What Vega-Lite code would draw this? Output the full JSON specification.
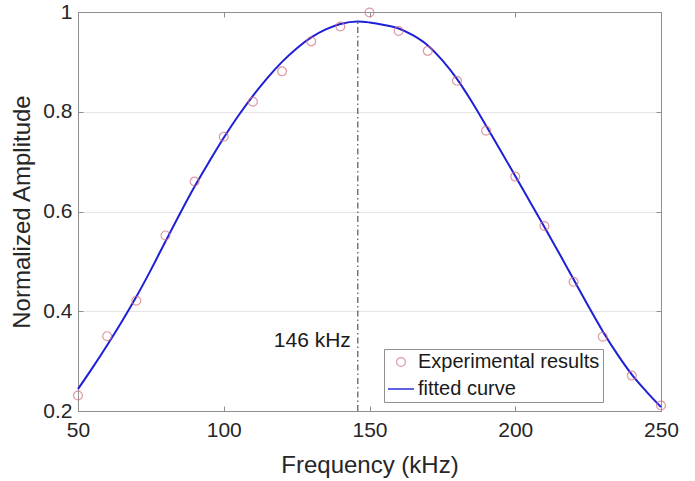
{
  "$schema": "https://vega.github.io/schema/vega-lite/v6.json",
  "width": 583,
  "height": 399,
  "autosize": {"type": "none"},
  "padding": {"left": 78, "top": 12, "right": 34, "bottom": 70},
  "background": "white",
  "config": {
    "font": "Liberation Sans",
    "view": {"stroke": "#8f8f8f", "strokeWidth": 1},
    "legend": {
      "orient": "none", "legendX": 306, "legendY": 337,
      "direction": "vertical", "fillColor": "white", "strokeColor": "#8f8f8f",
      "padding": 3, "labelFontSize": 20, "labelColor": "#1a1a1a", "labelFont": "Liberation Sans",
      "rowPadding": 3, "labelOffset": 3, "labelLimit": 400
    }
  },
  "datasets": {
    "exp": [
      {"f": 50, "a": 0.231, "s": "Experimental results"},
      {"f": 60, "a": 0.350, "s": "Experimental results"},
      {"f": 70, "a": 0.421, "s": "Experimental results"},
      {"f": 80, "a": 0.552, "s": "Experimental results"},
      {"f": 90, "a": 0.660, "s": "Experimental results"},
      {"f": 100, "a": 0.750, "s": "Experimental results"},
      {"f": 110, "a": 0.820, "s": "Experimental results"},
      {"f": 120, "a": 0.881, "s": "Experimental results"},
      {"f": 130, "a": 0.941, "s": "Experimental results"},
      {"f": 140, "a": 0.971, "s": "Experimental results"},
      {"f": 150, "a": 0.999, "s": "Experimental results"},
      {"f": 160, "a": 0.962, "s": "Experimental results"},
      {"f": 170, "a": 0.922, "s": "Experimental results"},
      {"f": 180, "a": 0.862, "s": "Experimental results"},
      {"f": 190, "a": 0.762, "s": "Experimental results"},
      {"f": 200, "a": 0.670, "s": "Experimental results"},
      {"f": 210, "a": 0.571, "s": "Experimental results"},
      {"f": 220, "a": 0.459, "s": "Experimental results"},
      {"f": 230, "a": 0.349, "s": "Experimental results"},
      {"f": 240, "a": 0.271, "s": "Experimental results"},
      {"f": 250, "a": 0.211, "s": "Experimental results"}
    ],
    "fit": [
      {"f": 50, "a": 0.244}, {"f": 55, "a": 0.287}, {"f": 60, "a": 0.332}, {"f": 65, "a": 0.379},
      {"f": 70, "a": 0.429}, {"f": 75, "a": 0.483}, {"f": 80, "a": 0.540}, {"f": 85, "a": 0.596},
      {"f": 90, "a": 0.650}, {"f": 95, "a": 0.700}, {"f": 100, "a": 0.748}, {"f": 105, "a": 0.792},
      {"f": 110, "a": 0.832}, {"f": 115, "a": 0.868}, {"f": 120, "a": 0.900}, {"f": 125, "a": 0.927},
      {"f": 130, "a": 0.949}, {"f": 135, "a": 0.965}, {"f": 140, "a": 0.976}, {"f": 146, "a": 0.981},
      {"f": 150, "a": 0.979}, {"f": 155, "a": 0.974}, {"f": 160, "a": 0.967}, {"f": 165, "a": 0.953},
      {"f": 170, "a": 0.933}, {"f": 175, "a": 0.903}, {"f": 180, "a": 0.866}, {"f": 185, "a": 0.821},
      {"f": 190, "a": 0.772}, {"f": 195, "a": 0.722}, {"f": 200, "a": 0.671}, {"f": 205, "a": 0.620},
      {"f": 210, "a": 0.569}, {"f": 215, "a": 0.517}, {"f": 220, "a": 0.464}, {"f": 225, "a": 0.411},
      {"f": 230, "a": 0.360}, {"f": 235, "a": 0.314}, {"f": 240, "a": 0.273}, {"f": 245, "a": 0.239},
      {"f": 250, "a": 0.208}
    ],
    "marker": [
      {"f": 146, "lo": 0.2, "hi": 0.981, "ty": 0.34, "label": "146 kHz"}
    ]
  },
  "resolve": {"axis": {"x": "independent", "y": "independent"}},
  "layer": [
    {
      "data": {"name": "fit"},
      "mark": {"type": "line", "color": "#1f1fd8", "strokeWidth": 2, "interpolate": "monotone"},
      "encoding": {
        "x": {
          "field": "f", "type": "quantitative",
          "scale": {"domain": [50, 250], "nice": false, "zero": false},
          "axis": {
            "orient": "bottom", "values": [50, 100, 150, 200, 250],
            "title": "Frequency (kHz)", "titleFontSize": 24, "titleFontWeight": "normal",
            "titleColor": "#262626", "titleY": 54, "titleBaseline": "middle",
            "labelFontSize": 21, "labelColor": "#262626", "labelPadding": 13,
            "tickSize": -5, "tickColor": "#8f8f8f", "domainColor": "#8f8f8f",
            "grid": false, "labelFlush": false
          }
        },
        "y": {
          "field": "a", "type": "quantitative",
          "scale": {"domain": [0.2, 1], "nice": false, "zero": false},
          "axis": {
            "orient": "left", "values": [0.2, 0.4, 0.6, 0.8, 1], "format": "~g",
            "title": "Normalized Amplitude", "titleFontSize": 24, "titleFontWeight": "normal",
            "titleColor": "#262626", "titleX": -56, "titleY": 199.5, "titleAngle": 270,
            "titleBaseline": "middle", "titleAlign": "center",
            "labelFontSize": 21, "labelColor": "#262626", "labelPadding": 11,
            "tickSize": -5, "tickColor": "#8f8f8f", "domainColor": "#8f8f8f",
            "grid": true, "gridColor": "#e6e6e6", "labelFlush": false
          }
        }
      }
    },
    {
      "data": {"name": "marker"},
      "mark": {"type": "rule", "color": "#333333", "strokeWidth": 1, "strokeDash": [6, 3, 1.5, 3]},
      "encoding": {
        "x": {
          "field": "f", "type": "quantitative",
          "scale": {"domain": [50, 250], "nice": false, "zero": false},
          "axis": {
            "orient": "top", "values": [50, 100, 150, 200, 250], "labels": false, "title": null,
            "tickSize": -5, "tickColor": "#8f8f8f", "domainColor": "#8f8f8f", "grid": false
          }
        },
        "y": {
          "field": "lo", "type": "quantitative",
          "scale": {"domain": [0.2, 1], "nice": false, "zero": false},
          "axis": {
            "orient": "right", "values": [0.2, 0.4, 0.6, 0.8, 1], "labels": false, "title": null,
            "tickSize": -5, "tickColor": "#8f8f8f", "domainColor": "#8f8f8f", "grid": false
          }
        },
        "y2": {"field": "hi"}
      }
    },
    {
      "data": {"name": "marker"},
      "mark": {"type": "text", "align": "right", "baseline": "middle", "dx": -7, "fontSize": 21, "color": "#1a1a1a", "font": "Liberation Sans"},
      "encoding": {
        "x": {"field": "f", "type": "quantitative", "scale": {"domain": [50, 250], "nice": false, "zero": false}, "axis": null},
        "y": {"field": "ty", "type": "quantitative", "scale": {"domain": [0.2, 1], "nice": false, "zero": false}, "axis": null},
        "text": {"field": "label"}
      }
    },
    {
      "data": {"name": "exp"},
      "mark": {"type": "point", "filled": false},
      "encoding": {
        "x": {"field": "f", "type": "quantitative", "scale": {"domain": [50, 250], "nice": false, "zero": false}, "axis": null},
        "y": {"field": "a", "type": "quantitative", "scale": {"domain": [0.2, 1], "nice": false, "zero": false}, "axis": null},
        "color": {
          "field": "s", "type": "nominal", "title": null,
          "scale": {"domain": ["Experimental results", "fitted curve"], "range": ["#d0707e", "#1f1fd8"]}
        },
        "shape": {
          "field": "s", "type": "nominal", "title": null,
          "scale": {"domain": ["Experimental results", "fitted curve"], "range": ["circle", "stroke"]}
        },
        "size": {
          "field": "s", "type": "nominal", "title": null,
          "scale": {"domain": ["Experimental results", "fitted curve"], "range": [78, 676]}
        },
        "strokeWidth": {
          "field": "s", "type": "nominal", "title": null,
          "scale": {"domain": ["Experimental results", "fitted curve"], "range": [1.2, 2]}
        }
      }
    }
  ]
}
